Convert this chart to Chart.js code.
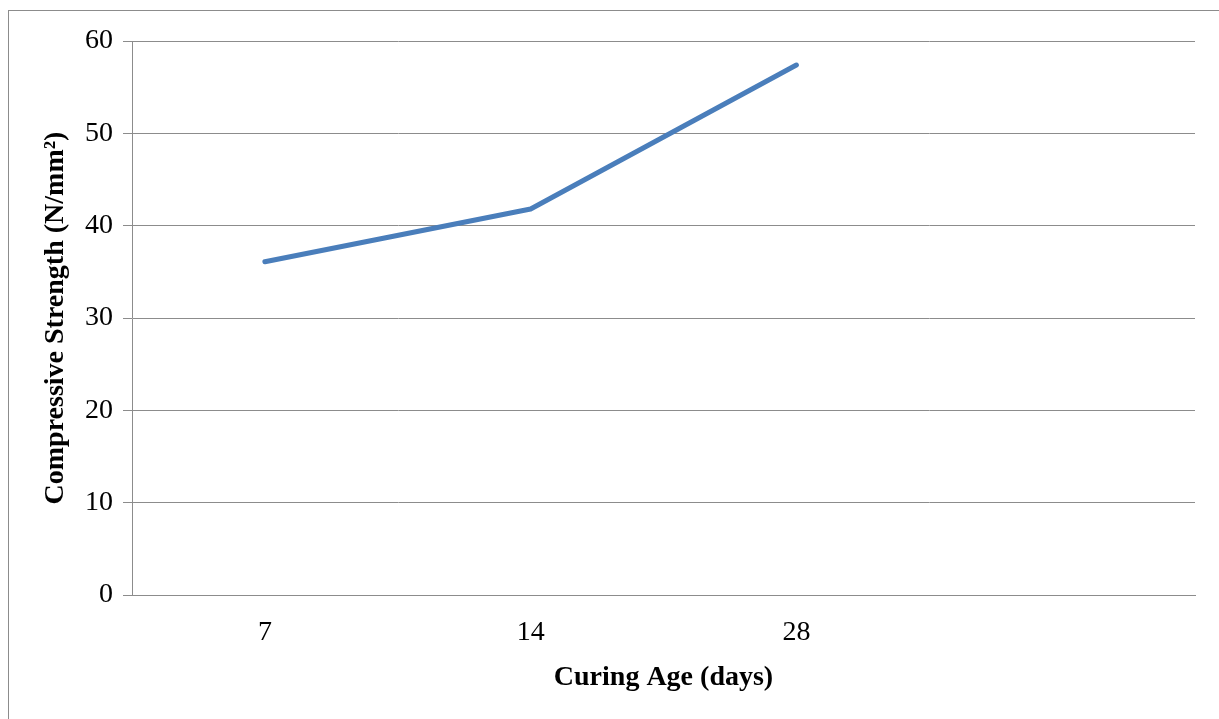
<!DOCTYPE html>
<html>
<head>
<meta charset="utf-8">
<script src="https://cdn.jsdelivr.net/npm/chart.js@4"></script>
<style>
  html, body { margin: 0; padding: 0; background: #fff; overflow: hidden; }
  .frame {
    position: absolute; left: 8px; top: 10px; width: 1300px; height: 800px;
    border: 1px solid #8c8c8c;
  }
  .wrap { position: absolute; left: 0; top: 0; width: 1219px; height: 719px; }
</style>
</head>
<body>
<div class="frame"></div>
<div class="wrap"><canvas id="chart"></canvas></div>
<script>
// curing ages (last slot is empty, like the original sheet)
const curingAges = ['7', '14', '28', ''];
const strength = [36.1, 41.8, 57.4, null];
const yTicks = [0, 10, 20, 30, 40, 50, 60];

const serif = "'Liberation Serif', 'Times New Roman', serif";

const ctx = document.getElementById('chart').getContext('2d');
new Chart(ctx, {
  type: 'line',
  data: {
    labels: curingAges,
    datasets: [{
      label: 'Compressive Strength',
      data: strength,
      borderColor: '#4a7ebb',
      borderWidth: 5,
      pointRadius: 0,
      tension: 0,
      fill: false,
      borderCapStyle: 'round',
      borderJoinStyle: 'round'
    }]
  },
  options: {
    responsive: true,
    maintainAspectRatio: false,
    animation: false,
    layout: { padding: { top: 41, right: 24, left: 0, bottom: 0 } },
    plugins: {
      legend: { display: false },
      tooltip: { enabled: false }
    },
    scales: {
      x: {
        offset: true,
        grid: { display: false, drawTicks: false },
        border: { display: true, color: '#8c8c8c', width: 1 },
        ticks: {
          color: '#000',
          padding: 21,
          font: { family: serif, size: 28 }
        },
        title: {
          display: true,
          text: 'Curing Age (days)',
          color: '#000',
          font: { family: serif, size: 28, weight: 'bold' },
          padding: { top: 0, bottom: 24 }
        },
        afterFit: (scale) => { scale.height = 124; }
      },
      y: {
        min: 0,
        max: 60,
        afterBuildTicks: (scale) => { scale.ticks = yTicks.map(v => ({ value: v })); },
        grid: { color: '#8c8c8c', lineWidth: 1, tickLength: 9 },
        border: { display: true, color: '#8c8c8c', width: 1 },
        ticks: {
          color: '#000',
          padding: 10,
          font: { family: serif, size: 28 }
        },
        title: {
          display: true,
          text: 'Compressive Strength (N/mm²)',
          color: '#000',
          font: { family: serif, size: 28, weight: 'bold' },
          padding: { top: 39, bottom: 0 }
        },
        afterFit: (scale) => { scale.width = 132; }
      }
    }
  }
});
</script>
</body>
</html>
